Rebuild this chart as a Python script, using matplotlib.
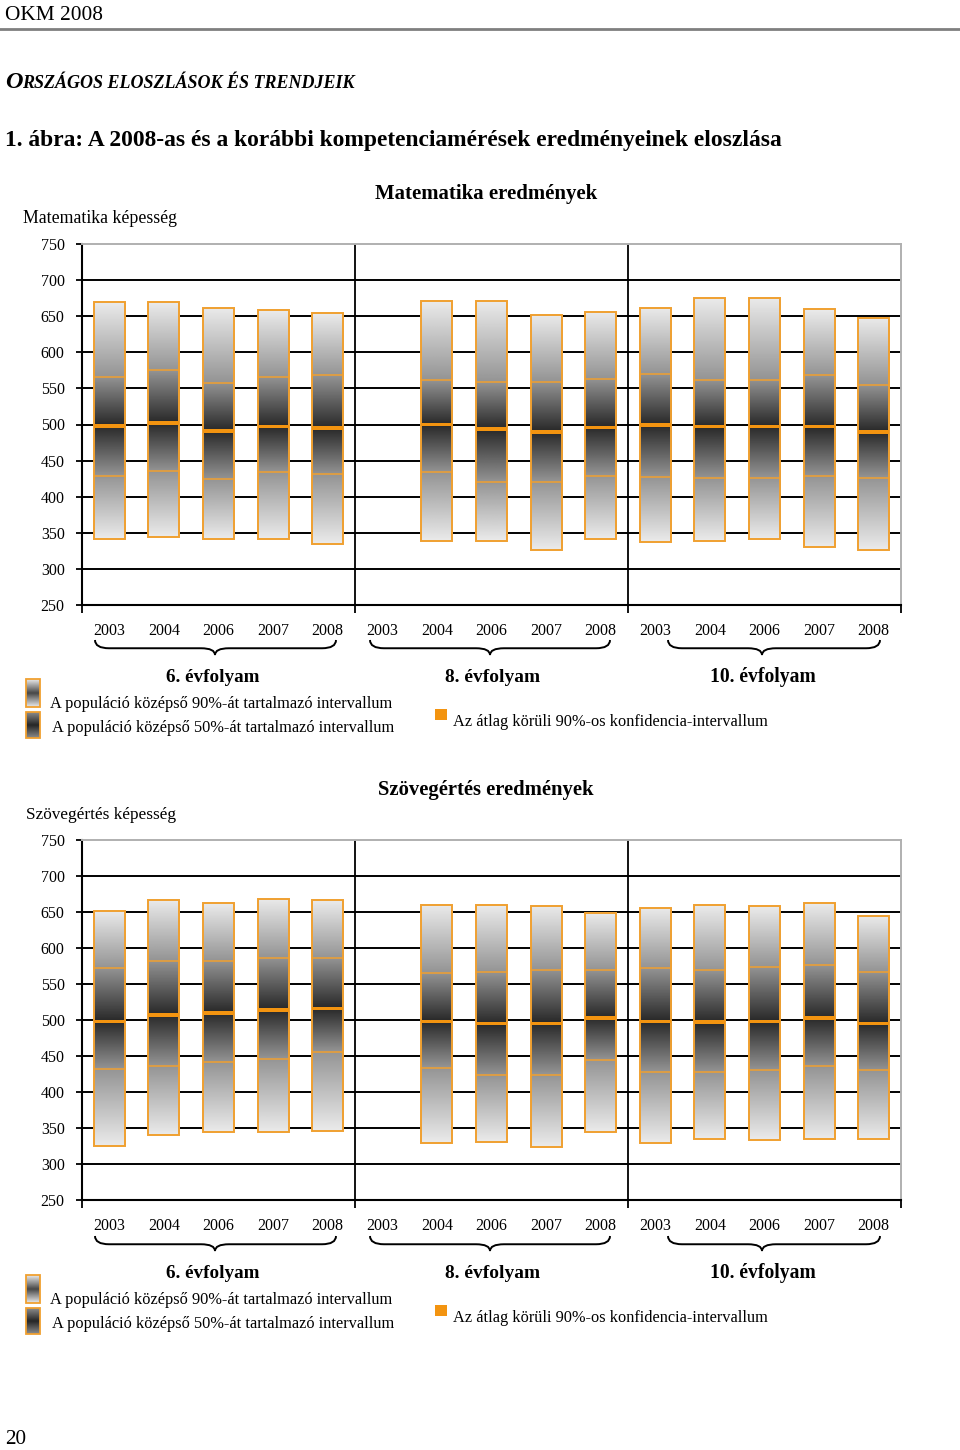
import numpy as np
import matplotlib
matplotlib.use("Agg")
import matplotlib.pyplot as plt
from matplotlib.patches import Rectangle, PathPatch
from matplotlib.path import Path

# ---------------- data ----------------
years = ["2003", "2004", "2006", "2007", "2008"]
grades = ["6. évfolyam", "8. évfolyam", "10. évfolyam"]
nan = np.nan

# Matematika (order: 6th 2003..2008, 8th 2003..2008, 10th 2003..2008)
math_p95 = [669, 669, 662, 658, 654, nan, 671, 671, 652, 656, 662, 675, 675, 660, 648]
math_p75 = [566, 575, 558, 566, 568, nan, 562, 559, 559, 563, 570, 562, 562, 568, 555]
math_mean = [498, 502, 491, 497, 495, nan, 500, 494, 490, 496, 499, 497, 497, 497, 490]
math_p25 = [429, 435, 424, 434, 431, nan, 434, 421, 421, 429, 427, 426, 426, 429, 426]
math_p5 = [341, 344, 341, 341, 335, nan, 339, 339, 326, 341, 337, 339, 341, 331, 326]

# Szövegértés
read_p95 = [652, 667, 662, 668, 666, nan, 660, 660, 658, 649, 656, 660, 658, 662, 645]
read_p75 = [572, 582, 582, 586, 586, nan, 565, 567, 569, 569, 572, 569, 574, 576, 567]
read_mean = [498, 507, 510, 514, 516, nan, 498, 495, 495, 503, 498, 497, 498, 503, 495]
read_p25 = [432, 436, 441, 446, 456, nan, 434, 424, 424, 444, 428, 428, 430, 436, 430]
read_p5 = [325, 340, 344, 344, 346, nan, 329, 331, 323, 344, 329, 335, 333, 335, 335]

ci_half = 2.5
y_ticks = [250, 300, 350, 400, 450, 500, 550, 600, 650, 700, 750]

# ---------------- style ----------------
FONT = "Liberation Serif"
plt.rcParams["font.family"] = [FONT, "DejaVu Serif"]
ORANGE = "#F0A030"
ORANGE_MEAN = "#F39410"
W, H = 960, 1450

fig = plt.figure(figsize=(W / 100, H / 100), dpi=100, facecolor="white")
bg = fig.add_axes([0, 0, 1, 1], zorder=0)
bg.set_xlim(0, W)
bg.set_ylim(H, 0)
bg.axis("off")
renderer = fig.canvas.get_renderer()


def fit_text(x, y, s, width, fs0=12, **kw):
    t = bg.text(x, y, s, fontsize=fs0, **kw)
    bb = t.get_window_extent(renderer=renderer)
    t.set_fontsize(fs0 * width / bb.width)
    return t


def brace(x0, x1, xm, y0, h, lw=1.4):
    r = 14
    ym = y0 + h * 0.55
    verts = [(x0, y0), (x0, ym), (x0 + r, ym), (xm - r, ym), (xm, ym), (xm, y0 + h),
             (xm, ym), (xm + r, ym), (x1 - r, ym), (x1, ym), (x1, y0)]
    codes = [Path.MOVETO, Path.CURVE3, Path.CURVE3, Path.LINETO, Path.CURVE3, Path.CURVE3,
             Path.CURVE3, Path.CURVE3, Path.LINETO, Path.CURVE3, Path.CURVE3]
    bg.add_patch(PathPatch(Path(verts, codes), facecolor="none", edgecolor="black", lw=lw))


def gradient_icon(x0, x1, y0, y1, lo, hi):
    t = np.linspace(0, 1, 100)
    g = hi + (lo - hi) * (1 - np.abs(2 * t - 1))
    bg.imshow(g[:, None], cmap="gray", vmin=0, vmax=1, extent=(x0, x1, y1, y0),
              aspect="auto", interpolation="bilinear", zorder=2)
    bg.add_patch(Rectangle((x0, y0), x1 - x0, y1 - y0, fill=False, edgecolor=ORANGE, lw=1.3, zorder=3))


# ---------------- header ----------------
fit_text(5, 20, "OKM 2008", 98, fs0=18, va="baseline", ha="left")
bg.plot([0, W], [28.5, 28.5], color="#7f7f7f", lw=2)

# small-caps heading
fsb = 15.0
o = bg.text(5, 88, "O", fontsize=fsb, fontweight="bold", fontstyle="italic", va="baseline", ha="left")
ow = o.get_window_extent(renderer=renderer).width
rest = bg.text(5 + ow, 88, "RSZÁGOS ELOSZLÁSOK ÉS TRENDJEIK", fontsize=fsb * 0.74,
               fontweight="bold", fontstyle="italic", va="baseline", ha="left")
total = ow + rest.get_window_extent(renderer=renderer).width
scale = 349 / total
o.set_fontsize(fsb * scale)
ow2 = o.get_window_extent(renderer=renderer).width
rest.set_fontsize(fsb * 0.74 * scale)
rest.set_x(5 + ow2)

fit_text(5, 146, "1. ábra: A 2008-as és a korábbi kompetenciamérések eredményeinek eloszlása", 780,
         fs0=16, fontweight="bold", va="baseline", ha="left")


# ---------------- charts ----------------
def draw_chart(top_px, bottom_px, p95, p75, mean, p25, p5, title, ylabel, title_w, ylabel_x, ylabel_w):
    left_px, right_px = 82, 901
    ax = fig.add_axes([left_px / W, 1 - bottom_px / H, (right_px - left_px) / W, (bottom_px - top_px) / H],
                      zorder=1)
    n = len(p95)
    bw = 0.57
    for i in range(n):
        if np.isnan(p95[i]):
            continue
        lo, hi = p5[i], p95[i]
        yy = np.linspace(lo, hi, 400)
        g = np.interp(yy, [p5[i], p25[i], mean[i], p75[i], p95[i]], [0.92, 0.58, 0.16, 0.58, 0.92])
        ax.imshow(g[:, None], cmap="gray", vmin=0, vmax=1, origin="lower",
                  extent=(i - bw / 2, i + bw / 2, lo, hi), aspect="auto",
                  interpolation="bilinear", zorder=3)
        ax.add_patch(Rectangle((i - bw / 2, lo), bw, hi - lo, fill=False, edgecolor=ORANGE, lw=1.4, zorder=4))
        ax.hlines([p25[i], p75[i]], i - bw / 2, i + bw / 2, colors=ORANGE, lw=1.1, zorder=4)
        ax.add_patch(Rectangle((i - bw / 2, mean[i] - ci_half), bw, 2 * ci_half,
                               facecolor=ORANGE_MEAN, edgecolor="none", zorder=5))
    ax.set_xlim(-0.5, n - 0.5)
    ax.set_ylim(y_ticks[0], y_ticks[-1])
    ax.hlines(y_ticks[1:-1], -0.5, n - 0.5, colors="black", lw=1.4, zorder=1)
    ax.axvline(4.5, color="black", lw=1.3, zorder=1)
    ax.axvline(9.5, color="black", lw=1.3, zorder=1)
    for s in ("top", "right"):
        ax.spines[s].set_color("#b0b0b0")
        ax.spines[s].set_linewidth(1.4)
    for s in ("left", "bottom"):
        ax.spines[s].set_color("black")
        ax.spines[s].set_linewidth(1.5)
    ax.set_yticks(y_ticks)
    ax.set_yticklabels([str(v) for v in y_ticks])
    ax.tick_params(axis="y", direction="out", length=4.5, width=1.3, pad=8, labelsize=11.5)
    ax.set_xticks([-0.5, 4.5, 9.5, n - 0.5])
    ax.set_xticklabels([])
    ax.tick_params(axis="x", which="major", direction="out", length=6, width=1.3)
    ax.set_xticks(range(n), minor=True)
    ax.set_xticklabels(years * 3, minor=True)
    ax.tick_params(axis="x", which="minor", length=0, pad=13, labelsize=11.5)

    # titles
    fit_text(486, top_px - 45, title, title_w, fs0=14, fontweight="bold", ha="center", va="baseline")
    fit_text(ylabel_x, top_px - 21, ylabel, ylabel_w, fs0=12, ha="left", va="baseline")


draw_chart(244, 605, math_p95, math_p75, math_mean, math_p25, math_p5,
           "Matematika eredmények", "Matematika képesség", 222, 23, 153)
draw_chart(840, 1200, read_p95, read_p75, read_mean, read_p25, read_p5,
           "Szövegértés eredmények", "Szövegértés képesség", 216, 26, 150)


def lower_block(y_off):
    # braces
    brace(95, 336, 215, 640 + y_off, 15)
    brace(370, 610, 490, 640 + y_off, 15)
    brace(668, 880, 762, 640 + y_off, 15)
    # grade labels
    centers = [213, 493, 763]
    widths = [94, 95, 106]
    for c, g, w in zip(centers, grades, widths):
        fit_text(c, 682 + y_off, g, w, fs0=14, fontweight="bold", ha="center", va="baseline")
    # legend
    gradient_icon(26, 40, 679 + y_off, 707 + y_off, 0.28, 0.92)
    gradient_icon(26, 40, 712 + y_off, 738 + y_off, 0.15, 0.55)
    fit_text(50, 708 + y_off, "A populáció középső 90%-át tartalmazó intervallum", 342,
             fs0=12, ha="left", va="baseline")
    fit_text(52, 732 + y_off, "A populáció középső 50%-át tartalmazó intervallum", 342,
             fs0=12, ha="left", va="baseline")
    bg.add_patch(Rectangle((435, 709 + y_off), 12, 11, facecolor=ORANGE_MEAN, edgecolor="none"))
    fit_text(453, 726 + y_off, "Az átlag körüli 90%-os konfidencia-intervallum", 314,
             fs0=12, ha="left", va="baseline")


lower_block(0)
lower_block(596)

fit_text(5, 1444, "20", 21, fs0=15, ha="left", va="baseline")

bg.set_xlim(0, W)
bg.set_ylim(H, 0)
fig.savefig("out.png", dpi=100, facecolor="white")
